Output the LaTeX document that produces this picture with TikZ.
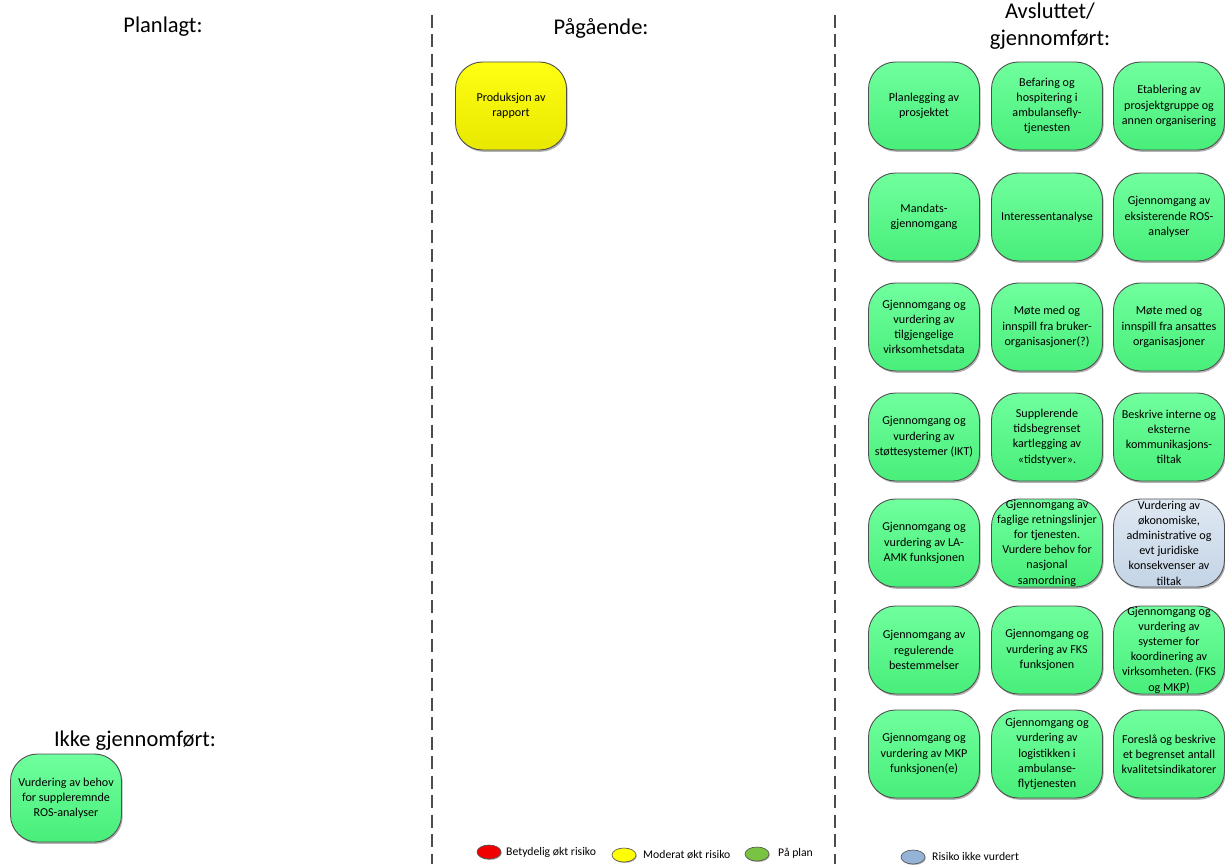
\documentclass[tikz,border=0pt]{standalone}
\usepackage{fontspec}
\setmainfont{Carlito}
\frenchspacing
\usetikzlibrary{shadows,shapes.geometric}
\definecolor{greentop}{RGB}{112,255,158}
\definecolor{greenbot}{RGB}{72,238,122}
\definecolor{bluetop}{RGB}{222,232,242}
\definecolor{bluebot}{RGB}{196,212,230}
\definecolor{yeltop}{RGB}{255,255,20}
\definecolor{yelbot}{RGB}{232,232,0}
\definecolor{boxline}{RGB}{80,80,80}
\definecolor{legred}{RGB}{240,0,0}
\definecolor{legyel}{RGB}{255,255,0}
\definecolor{leggreen}{RGB}{122,194,66}
\definecolor{legblue}{RGB}{149,179,215}
\tikzset{
  task/.style={draw=boxline, line width=0.9pt, rounded corners=27pt,
    minimum width=111pt, minimum height=88pt, inner sep=0pt,
    align=center,
    font=\fontsize{12.1}{15.2}\selectfont,
    drop shadow={shadow xshift=1.2pt, shadow yshift=-1.8pt, opacity=0.3, fill=black}},
  greenbox/.style={task, top color=greentop, bottom color=greenbot},
  bluebox/.style={task, top color=bluetop, bottom color=bluebot},
  yellowbox/.style={task, top color=yeltop, bottom color=yelbot},
  heading/.style={font=\fontsize{22.5}{27}\selectfont, align=center, inner sep=0pt},
  divider/.style={draw=black!70, line width=1.3pt, dash pattern=on 13pt off 6.5pt},
  legdot/.style={ellipse, draw=boxline, line width=0.6pt, minimum width=24pt, minimum height=14pt, inner sep=0pt,
    drop shadow={shadow xshift=0.8pt, shadow yshift=-1pt, opacity=0.3, fill=black}},
  legtext/.style={font=\fontsize{11.7}{13}\selectfont, anchor=west, inner sep=0pt}
}
\begin{document}
\begin{tikzpicture}[x=1pt,y=-1pt]
\useasboundingbox (0,0) rectangle (1225,864);
% dividers
\coordinate (d1t) at (432,15); \coordinate (d1b) at (432,864);
\coordinate (d2t) at (835,15); \coordinate (d2b) at (835,864);
\draw[divider] (d1t) -- (d1b);
\draw[divider] (d2t) -- (d2b);
% headings
\node[heading] (hplan) at (163,27) {Planlagt:};
\node[heading] (hpag) at (601,28) {Pågående:};
\node[heading] (havs) at (1050,26) {Avsluttet/\\gjennomført:};
\node[heading] (hikke) at (135,741) {Ikke gjennomført:};
% ongoing
\node[yellowbox] (prod) at (511,106) {Produksjon av\\rapport};
% not done
\node[greenbox] (vurd) at (66,798) {Vurdering av behov\\for suppleremnde\\ROS-analyser};
% completed
\node[greenbox] (a1) at (924,106) {Planlegging av\\prosjektet};
\node[greenbox] (a2) at (1047,106) {Befaring og\\hospitering i\\ambulansefly-\\tjenesten};
\node[greenbox] (a3) at (1169,106) {Etablering av\\prosjektgruppe og\\annen organisering};
\node[greenbox] (b1) at (924,217) {Mandats-\\gjennomgang};
\node[greenbox] (b2) at (1047,217) {Interessentanalyse};
\node[greenbox] (b3) at (1169,217) {Gjennomgang av\\eksisterende ROS-\\analyser};
\node[greenbox] (c1) at (924,327) {Gjennomgang og\\vurdering av\\tilgjengelige\\virksomhetsdata};
\node[greenbox] (c2) at (1047,327) {Møte med og\\innspill fra bruker-\\organisasjoner(?)};
\node[greenbox] (c3) at (1169,327) {Møte med og\\innspill fra ansattes\\organisasjoner};
\node[greenbox] (e1) at (924,437) {Gjennomgang og\\vurdering av\\støttesystemer (IKT)};
\node[greenbox] (e2) at (1047,437) {Supplerende\\tidsbegrenset\\kartlegging av\\«tidstyver».};
\node[greenbox] (e3) at (1169,437) {Beskrive interne og\\eksterne\\kommunikasjons-\\tiltak};
\node[greenbox] (f1) at (924,543) {Gjennomgang og\\vurdering av LA-\\AMK funksjonen};
\node[greenbox] (f2) at (1047,543) {Gjennomgang av\\faglige retningslinjer\\for tjenesten.\\Vurdere behov for\\nasjonal\\samordning};
\node[bluebox] (f3) at (1169,543) {Vurdering av\\økonomiske,\\administrative og\\evt juridiske\\konsekvenser av\\tiltak};
\node[greenbox] (g1) at (924,650) {Gjennomgang av\\regulerende\\bestemmelser};
\node[greenbox] (g2) at (1047,650) {Gjennomgang og\\vurdering av FKS\\funksjonen};
\node[greenbox] (g3) at (1169,650) {Gjennomgang og\\vurdering av\\systemer for\\koordinering av\\virksomheten. (FKS\\og MKP)};
\node[greenbox] (h1) at (924,754) {Gjennomgang og\\vurdering av MKP\\funksjonen(e)};
\node[greenbox] (h2) at (1047,754) {Gjennomgang og\\vurdering av\\logistikken i\\ambulanse-\\flytjenesten};
\node[greenbox] (h3) at (1169,754) {Foreslå og beskrive\\et begrenset antall\\kvalitetsindikatorer};
% legend
\node[legdot, fill=legred] (lr) at (489,852) {};
\node[legtext] (lrt) at (506,852) {Betydelig økt risiko};
\node[legdot, fill=legyel] (ly) at (624,855) {};
\node[legtext] (lyt) at (643,855) {Moderat økt risiko};
\node[legdot, fill=leggreen] (lg) at (757,854) {};
\node[legtext] (lgt) at (778,853) {På plan};
\node[legdot, fill=legblue] (lb) at (913,857) {};
\node[legtext] (lbt) at (932,856) {Risiko ikke vurdert};
\end{tikzpicture}
\end{document}
